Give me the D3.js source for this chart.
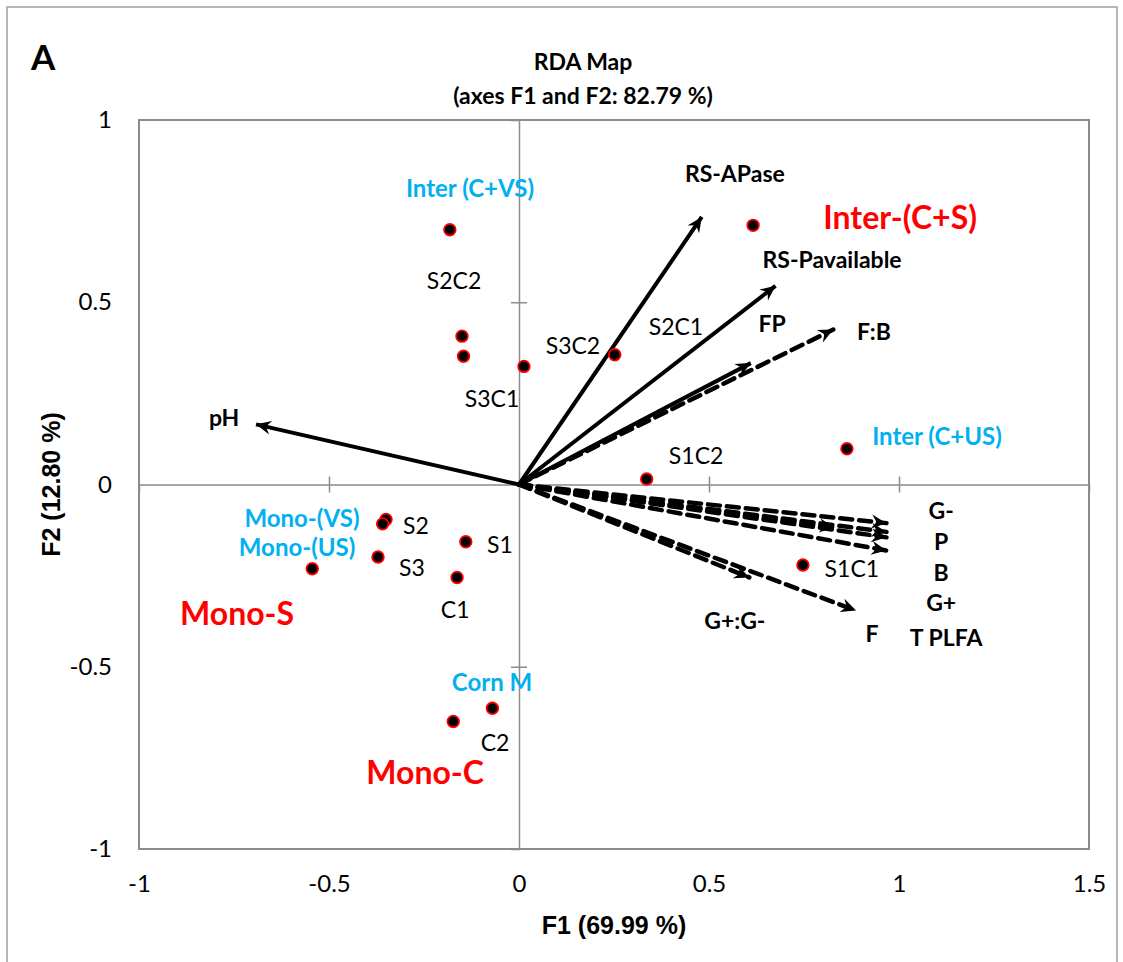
<!DOCTYPE html>
<html>
<head>
<meta charset="utf-8">
<script src="https://cdn.jsdelivr.net/npm/d3@7"></script>
<style>
  html, body { margin: 0; padding: 0; background: #fff; }
  svg { display: block; }
</style>
</head>
<body>
<svg id="chart" width="1123" height="962"></svg>
<script>
// ---- Sample scores (F1, F2) ----
const sampleF1 = [-0.182, -0.150, -0.146, 0.013, 0.252, 0.616, 0.863, 0.336, 0.747,
                  -0.350, -0.359, -0.140, -0.371, -0.544, -0.163, -0.070, -0.173];
const sampleF2 = [0.699, 0.407, 0.352, 0.324, 0.356, 0.711, 0.098, 0.015, -0.221,
                  -0.096, -0.108, -0.157, -0.199, -0.231, -0.255, -0.614, -0.650];

// ---- Explanatory variables (solid) ----
const envNames = ["pH", "RS-APase", "RS-Pavailable", "FP"];
const envF1 = [-0.692, 0.481, 0.675, 0.610];
const envF2 = [0.165, 0.734, 0.545, 0.333];

// ---- Response variables (dashed) ----
const respNames = ["F:B", "G-", "T PLFA", "P", "G+", "B", "G+:G-", "F"];
const respF1 = [0.827, 0.967, 0.967, 0.967, 0.830, 0.967, 0.606, 0.887];
const respF2 = [0.425, -0.106, -0.130, -0.145, -0.118, -0.181, -0.255, -0.346];

// ---- Text annotations placed in F1/F2 units ----
const varLabels = ["RS-APase", "RS-Pavailable", "FP", "F:B", "pH", "G-", "P", "B", "G+", "T PLFA", "F", "G+:G-"];
const varLabelF1 = [0.568, 0.824, 0.666, 0.934, -0.776, 1.111, 1.111, 1.111, 1.111, 1.124, 0.929, 0.568];
const varLabelF2 = [0.854, 0.618, 0.442, 0.420, 0.184, -0.071, -0.154, -0.239, -0.321, -0.418, -0.407, -0.371];

const sampleLabels = ["S2C2", "S3C1", "S3C2", "S2C1", "S1C2", "S1C1", "S2", "S1", "S3", "C1", "C2"];
const sampleLabelF1 = [-0.171, -0.071, 0.142, 0.413, 0.466, 0.876, -0.271, -0.050, -0.282, -0.168, -0.063];
const sampleLabelF2 = [0.560, 0.236, 0.382, 0.434, 0.080, -0.228, -0.110, -0.162, -0.225, -0.341, -0.706];

const systemLabels = ["Inter-(C+S)", "Mono-S", "Mono-C"];
const systemLabelF1 = [1.003, -0.742, -0.247];
const systemLabelF2 = [0.734, -0.352, -0.788];

const treatLabels = ["Inter (C+VS)", "Inter (C+US)", "Mono-(VS)", "Mono-(US)", "Corn M"];
const treatLabelF1 = [-0.129, 1.100, -0.571, -0.584, -0.071];
const treatLabelF2 = [0.816, 0.135, -0.091, -0.170, -0.541];

const xTicks = [-1, -0.5, 0, 0.5, 1, 1.5];
const yTicks = [-1, -0.5, 0, 0.5, 1];

// ---- Layout ----
const svg = d3.select("#chart");
const plot = { left: 139, right: 1089, top: 120, bottom: 849 };
const x = d3.scaleLinear().domain([-1, 1.5]).range([plot.left, plot.right]);
const y = d3.scaleLinear().domain([-1, 1]).range([plot.bottom, plot.top]);

const calibri = "Lato, 'Open Sans', sans-serif";
const arial = "'Liberation Sans', Arial, sans-serif";
const gridGrey = "#8c8c8c";

// outer frame
svg.append("rect")
  .attr("x", 7).attr("y", 7).attr("width", 1110).attr("height", 960)
  .attr("fill", "none").attr("stroke", "#a0a0a0").attr("stroke-width", 1.5);

// panel letter and titles
svg.append("text").attr("x", 31).attr("y", 70)
  .attr("font-family", calibri).attr("font-weight", "bold").attr("font-size", 35)
  .text("A");
svg.append("text").attr("x", 583).attr("y", 70).attr("text-anchor", "middle")
  .attr("font-family", calibri).attr("font-weight", "bold").attr("font-size", 23)
  .text("RDA Map");
svg.append("text").attr("x", 583).attr("y", 104).attr("text-anchor", "middle")
  .attr("font-family", calibri).attr("font-weight", "bold").attr("font-size", 23)
  .text("(axes F1 and F2: 82.79 %)");

// plot border
svg.append("rect")
  .attr("x", plot.left).attr("y", plot.top)
  .attr("width", plot.right - plot.left).attr("height", plot.bottom - plot.top)
  .attr("fill", "none").attr("stroke", gridGrey).attr("stroke-width", 2);

// zero lines with crossing tick marks
function zeroAxis(axisFn, scale, ticks, transform) {
  const g = svg.append("g").attr("transform", transform)
    .call(axisFn(scale).tickValues(ticks).tickSize(8).tickFormat(""));
  g.select(".domain").attr("stroke", gridGrey).attr("stroke-width", 1.5);
  g.selectAll(".tick line").attr("stroke", gridGrey).attr("stroke-width", 1.5);
  return g;
}
zeroAxis(d3.axisBottom, x, [-0.5, 0.5, 1], `translate(0,${y(0)})`);
zeroAxis(d3.axisTop, x, [-0.5, 0.5, 1], `translate(0,${y(0)})`).select(".domain").remove();
zeroAxis(d3.axisLeft, y, [-0.5, 0.5], `translate(${x(0)},0)`);
zeroAxis(d3.axisRight, y, [-0.5, 0.5], `translate(${x(0)},0)`).select(".domain").remove();

// tick labels
const xAxis = svg.append("g").attr("transform", `translate(0,${plot.bottom})`)
  .call(d3.axisBottom(x).tickValues(xTicks).tickSize(0).tickPadding(26).tickFormat(d => String(d)));
xAxis.select(".domain").remove();
xAxis.selectAll("text").attr("font-family", calibri).attr("font-size", 24).attr("fill", "#000");

const yAxis = svg.append("g").attr("transform", `translate(${plot.left},0)`)
  .call(d3.axisLeft(y).tickValues(yTicks).tickSize(0).tickPadding(27).tickFormat(d => String(d)));
yAxis.select(".domain").remove();
yAxis.selectAll("text").attr("font-family", calibri).attr("font-size", 24).attr("fill", "#000");

// axis titles
svg.append("text").attr("x", 614).attr("y", 934).attr("text-anchor", "middle")
  .attr("font-family", arial).attr("font-weight", "bold").attr("font-size", 25)
  .text("F1 (69.99 %)");
svg.append("text").attr("transform", `translate(60,${y(0)}) rotate(-90)`)
  .attr("text-anchor", "middle")
  .attr("font-family", arial).attr("font-weight", "bold").attr("font-size", 25)
  .text("F2 (12.80 %)");

// arrowhead
svg.append("defs").append("marker")
  .attr("id", "head").attr("viewBox", "-16 -9 18 18")
  .attr("refX", 0).attr("refY", 0)
  .attr("markerWidth", 18).attr("markerHeight", 18)
  .attr("markerUnits", "userSpaceOnUse").attr("orient", "auto")
  .append("path").attr("d", "M-15,-7 L0,0 L-15,7 L-10,0 Z").attr("fill", "#000");

// response vectors (dashed)
svg.append("g").selectAll("line").data(respNames).join("line")
  .attr("x1", x(0)).attr("y1", y(0))
  .attr("x2", (d, i) => x(respF1[i])).attr("y2", (d, i) => y(respF2[i]))
  .attr("stroke", "#000").attr("stroke-width", 4.5)
  .attr("stroke-dasharray", "12,7").attr("stroke-linecap", "round")
  .attr("marker-end", "url(#head)");

// explanatory vectors (solid)
svg.append("g").selectAll("line").data(envNames).join("line")
  .attr("x1", x(0)).attr("y1", y(0))
  .attr("x2", (d, i) => x(envF1[i])).attr("y2", (d, i) => y(envF2[i]))
  .attr("stroke", "#000").attr("stroke-width", 4)
  .attr("marker-end", "url(#head)");

// sample points
svg.append("g").selectAll("circle").data(sampleF1).join("circle")
  .attr("cx", d => x(d)).attr("cy", (d, i) => y(sampleF2[i]))
  .attr("r", 5.8).attr("fill", "#000").attr("stroke", "#ff0000").attr("stroke-width", 1.8);

// text annotations
function labels(texts, fx, fy, opts) {
  svg.append("g").selectAll("text").data(texts).join("text")
    .attr("x", (d, i) => x(fx[i])).attr("y", (d, i) => y(fy[i]))
    .attr("text-anchor", "middle").attr("dominant-baseline", "central")
    .attr("font-family", calibri)
    .attr("font-weight", opts.weight).attr("font-size", opts.size).attr("fill", opts.color)
    .text(d => d);
}
labels(varLabels, varLabelF1, varLabelF2, { weight: "bold", size: 23, color: "#000" });
labels(sampleLabels, sampleLabelF1, sampleLabelF2, { weight: "normal", size: 23, color: "#000" });
labels(systemLabels, systemLabelF1, systemLabelF2, { weight: "bold", size: 32, color: "#ff0000" });
labels(treatLabels, treatLabelF1, treatLabelF2, { weight: "bold", size: 24, color: "#00b0f0" });
</script>
</body>
</html>
